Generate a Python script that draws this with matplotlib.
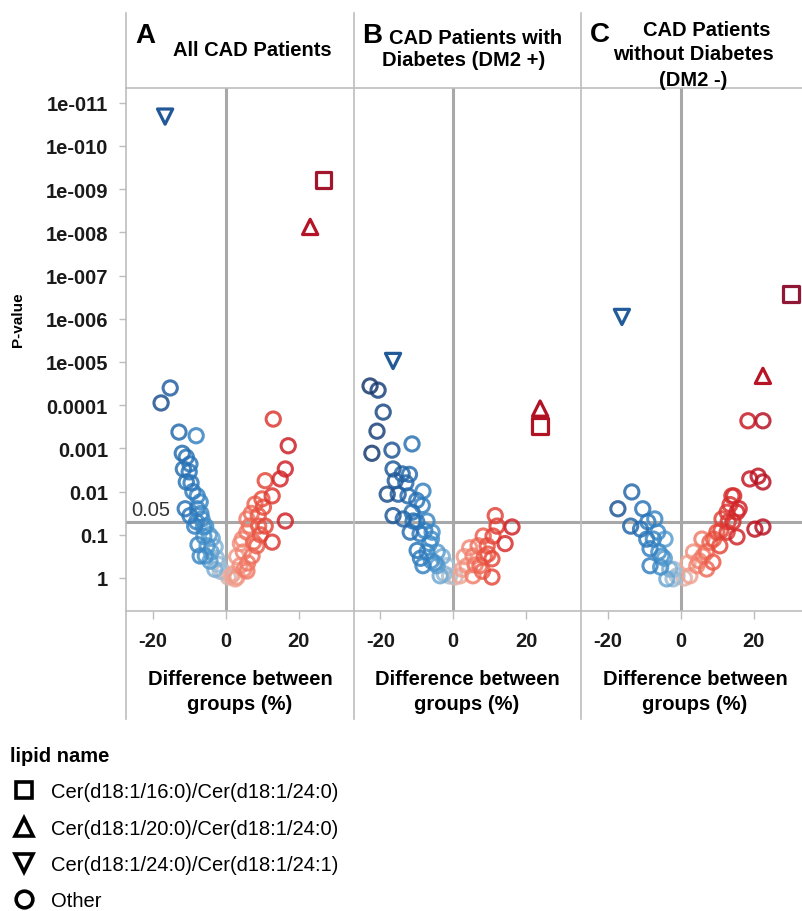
import numpy as np
import matplotlib
matplotlib.use('Agg')
import matplotlib.pyplot as plt
from matplotlib.colors import LinearSegmentedColormap, Normalize
from matplotlib.lines import Line2D
from matplotlib.ticker import FixedLocator, NullLocator

plt.rcParams['font.family'] = ['Liberation Sans', 'DejaVu Sans']

# ---- data (difference %, p-value) ----
# panel A: all CAD patients
a_x = [-15.2, -17.7, -12.8, -8.1, -11.9, -10.8, -9.8, -11.6, -10.0, -10.8, -7.8, -7.0,
       -11.1, -7.8, -9.8, -6.5, -6.1, -7.6, -3.7, -2.9, -5.6, -4.3, -2.1, -0.7, 0.7,
       2.6, -7.0, -5.1, -9.0, -8.5, -4.5, -6.0, -3.0,
       -6.8, -5.5, -4.0, -2.5, -1.5, -9.5, -8.0,
       13.0, 17.1, 16.3, 14.9, 10.8, 12.7, 9.9, 8.0, 10.3, 16.3, 10.8, 12.7, 5.8, 7.6,
       4.8, 7.2, 3.9, 5.8, 3.1, 8.9, 8.5, 5.8, 6.5, 4.5, 2.0, 9.5,
       3.0, 4.0, 6.0, 1.5, 7.0, 9.0, 5.0]
a_p = [4.0e-5, 8.9e-5, 4.2e-4, 5.1e-4, 1.3e-3, 1.6e-3, 2.3e-3, 3.0e-3, 3.5e-3, 6.0e-3, 0.0126, 0.0174,
       0.025, 0.025, 0.036, 0.043, 0.066, 0.17, 0.12, 0.19, 0.31, 0.41, 0.48, 0.72, 0.95,
       1.05, 0.31, 0.18, 0.01, 0.063, 0.1, 0.11, 0.63,
       0.032, 0.063, 0.25, 0.35, 0.7, 6.3e-3, 0.05,
       2.1e-4, 8.7e-4, 3.0e-3, 5.1e-3, 5.6e-3, 0.0126, 0.0148, 0.0195, 0.023, 0.048, 0.063, 0.148, 0.087, 0.148,
       0.25, 0.31, 0.52, 0.69, 0.95, 0.036, 0.18, 0.043, 0.063, 0.126, 0.8, 0.1,
       0.32, 0.16, 0.45, 0.9, 0.032, 0.063, 0.63]

# panel B: CAD patients with diabetes
b_x = [-22.8, -20.6, -19.2, -20.9, -22.3, -16.8, -11.3, -16.5, -14.0, -15.9, -18.1, -15.1,
       -12.4, -8.3, -16.5, -11.3, -8.5, -7.2, -11.8, -9.1, -5.8, -9.9, -7.2, -4.4, -8.3,
       -4.4, -3.6, -1.7, -13.7, -11.0, -13.0, -6.5, -2.5, -10.0, -6.0,
       -12.0, -10.0, -7.8, -6.0, -5.0, -3.0, -9.0, -1.0,
       11.5, 16.1, 14.2, 10.9, 8.2, 6.8, 10.6, 5.4, 3.8, 7.3, 10.6, 1.9, 5.4, 9.3, 12.0,
       0.5, 3.0, 8.5, 2.5, 4.5, 6.0, 8.0, 9.5]
b_p = [3.6e-5, 4.5e-5, 1.45e-4, 4.0e-4, 1.3e-3, 1.1e-3, 7.9e-4, 3.0e-3, 3.9e-3, 5.6e-3, 0.0115, 0.0115,
       0.0126, 9.8e-3, 0.036, 0.030, 0.021, 0.048, 0.087, 0.095, 0.087, 0.23, 0.25, 0.25, 0.52,
       0.52, 0.89, 0.52, 0.043, 0.048, 6.3e-3, 0.16, 0.8, 0.016, 0.4,
       4.0e-3, 0.05, 0.08, 0.126, 0.45, 0.32, 0.35, 0.9,
       0.036, 0.066, 0.16, 0.107, 0.107, 0.18, 0.36, 0.31, 0.52, 0.52, 0.95, 0.89, 0.89, 0.18, 0.063,
       0.95, 0.32, 0.32, 0.63, 0.2, 0.5, 0.7, 0.28]

# panel C: CAD patients without diabetes
c_x = [18.4, 22.5, 18.9, 21.2, 22.5, 20.3, 22.5, 14.0, 12.7, 15.4, 11.3, 14.3, 12.7, 15.4,
       9.9, 8.0, 10.7, 6.1, 8.8, 4.4, 2.5, 7.1, 5.8, 13.5, 1.0, 3.5,
       2.0, 5.0, 7.0, 9.0, 11.0, 13.0, 16.0, 14.5,
       -13.4, -17.2, -10.4, -13.7, -11.0, -7.1, -6.3, -9.3, -4.3, -8.4, -8.4, -5.2, -3.0,
       -2.1, -3.8, -6.0, -1.0, -9.0, -7.5, -5.5, -4.5, -2.0]
c_p = [2.3e-4, 2.3e-4, 5.1e-3, 4.4e-3, 6.0e-3, 0.074, 0.066, 0.0126, 0.030, 0.030, 0.043, 0.050, 0.087, 0.112,
       0.087, 0.148, 0.18, 0.31, 0.43, 0.52, 0.89, 0.62, 0.126, 0.02, 1.0, 0.25,
       0.45, 0.4, 0.25, 0.126, 0.08, 0.05, 0.025, 0.0126,
       0.0102, 0.025, 0.025, 0.063, 0.074, 0.043, 0.087, 0.126, 0.126, 0.21, 0.52, 0.31, 0.62,
       1.05, 1.05, 0.25, 0.89, 0.05, 0.126, 0.56, 0.35, 0.63]

# highlighted ratios: square, up triangle, down triangle (panels A, B, C)
sq_x = [26.7, 23.8, 30.2]
sq_p = [6.2e-10, 3.0e-4, 2.7e-7]
up_x = [23.1, 23.8, 22.5]
up_p = [7.5e-9, 1.2e-4, 2.1e-5]
dn_x = [-16.6, -16.5, -16.1]
dn_p = [2.1e-11, 9.5e-6, 9.1e-7]

lipids = ['Cer(d18:1/16:0)/Cer(d18:1/24:0)',
          'Cer(d18:1/20:0)/Cer(d18:1/24:0)',
          'Cer(d18:1/24:0)/Cer(d18:1/24:1)',
          'Other']

yticks = [1e-11, 1e-10, 1e-9, 1e-8, 1e-7, 1e-6, 1e-5, 1e-4, 1e-3, 1e-2, 1e-1, 1]
ytick_labels = ['1e-011', '1e-010', '1e-009', '1e-008', '1e-007', '1e-006', '1e-005',
                '0.0001', '0.001', '0.01', '0.1', '1']

# ---- styling ----
W, H = 802, 912
fig = plt.figure(figsize=(W / 100, H / 100), dpi=100)
fig.patch.set_facecolor('white')

def fx(px):
    return px / W

def fy(py):
    return 1 - py / H

stops = [(-25, '#14305f'), (-20, '#1d4680'), (-15, '#2462a3'), (-10, '#2c78bb'),
         (-5, '#4c96cd'), (-2, '#9dbfd8'), (0, '#cbbcbc'), (2, '#f0a898'),
         (5, '#f38470'), (10, '#e8503f'), (15, '#d42a2c'), (20, '#c21523'),
         (25, '#ad1326'), (32, '#861a3c')]
vmin, vmax = -25, 32
cmap = LinearSegmentedColormap.from_list(
    'diff', [((v - vmin) / (vmax - vmin), c) for v, c in stops])
norm = Normalize(vmin, vmax)

grey = '#bdbdbd'
refgrey = '#a8a8a8'
fs = 14.5

top, bot = 89, 612
lefts = [126, 354, 581]
rights = [354, 581, 802]
xlims = [(-27.3, 35.1), (-27.2, 35.0), (-27.3, 33.2)]
others = [(a_x, a_p), (b_x, b_p), (c_x, c_p)]

for i in range(3):
    ax = fig.add_axes([fx(lefts[i]), fy(bot), fx(rights[i] - lefts[i]), (bot - top) / H])
    ax.set_yscale('log')
    ax.set_ylim(10 ** 0.764, 10 ** -11.34)
    ax.set_xlim(*xlims[i])
    ax.axvline(0, color=refgrey, lw=2.2, zorder=1)
    ax.axhline(0.05, color=refgrey, lw=2.2, zorder=1)

    ox, op = others[i]
    ox = np.array(ox)
    op = np.array(op)
    order = np.argsort(np.abs(ox))
    ax.scatter(ox[order], op[order], s=105, facecolors='none',
               edgecolors=cmap(norm(ox[order])), linewidths=2.2, alpha=0.85, zorder=3)
    ax.scatter([sq_x[i]], [sq_p[i]], marker='s', s=125, facecolors='none',
               edgecolors=cmap(norm(sq_x[i])), linewidths=2.3, zorder=4)
    ax.scatter([up_x[i]], [up_p[i]], marker='^', s=120, facecolors='none',
               edgecolors=cmap(norm(up_x[i])), linewidths=2.3, zorder=4)
    ax.scatter([dn_x[i]], [dn_p[i]], marker='v', s=120, facecolors='none',
               edgecolors=cmap(norm(dn_x[i])), linewidths=2.3, zorder=4)

    for s in ['top', 'right']:
        ax.spines[s].set_visible(False)
    for s in ['left', 'bottom']:
        ax.spines[s].set_color(grey)
        ax.spines[s].set_linewidth(1.2)

    ax.set_xticks([-20, 0, 20])
    ax.set_xticklabels(['-20', '0', '20'], fontsize=fs, fontweight='bold')
    ax.tick_params(axis='x', colors=grey, length=5.5, width=1, pad=9, labelcolor='#1a1a1a')
    ax.yaxis.set_major_locator(FixedLocator(yticks))
    ax.yaxis.set_minor_locator(NullLocator())
    if i == 0:
        ax.set_yticklabels(ytick_labels, fontsize=fs, fontweight='bold')
        ax.tick_params(axis='y', colors=grey, length=5, width=1, pad=8, labelcolor='#1a1a1a')
    else:
        ax.tick_params(axis='y', length=0, labelleft=False)

# frame lines of the panel grid
for x in lefts:
    fig.add_artist(Line2D([fx(x), fx(x)], [fy(14), fy(top)], color=grey, lw=1.2))
    fig.add_artist(Line2D([fx(x), fx(x)], [fy(bot), fy(720)], color=grey, lw=1.2))
fig.add_artist(Line2D([fx(126), 1], [fy(top), fy(top)], color=grey, lw=1.2))

# panel headers
for letter, lx, ly in [('A', 135, 43), ('B', 362, 43), ('C', 590, 42)]:
    fig.text(fx(lx), fy(ly), letter, fontsize=20, fontweight='bold', va='baseline', ha='left')
fig.text(fx(252), fy(51), 'All CAD Patients', fontsize=fs, fontweight='bold', ha='center', va='center')
fig.text(fx(389), fy(39), 'CAD Patients with', fontsize=fs, fontweight='bold', ha='left', va='center')
fig.text(fx(382), fy(60), 'Diabetes (DM2 +)', fontsize=fs, fontweight='bold', ha='left', va='center')
fig.text(fx(707), fy(30), 'CAD Patients', fontsize=fs, fontweight='bold', ha='center', va='center')
fig.text(fx(693), fy(55), 'without Diabetes', fontsize=fs, fontweight='bold', ha='center', va='center')
fig.text(fx(693), fy(80), '(DM2 -)', fontsize=fs, fontweight='bold', ha='center', va='center')

# axis labels
fig.text(fx(18), fy(320), 'P-value', rotation=90, fontsize=11, fontweight='bold',
         ha='center', va='center')
for cx in [240, 467, 695]:
    fig.text(fx(cx), fy(680), 'Difference between', fontsize=fs, fontweight='bold', ha='center', va='center')
    fig.text(fx(cx), fy(705), 'groups (%)', fontsize=fs, fontweight='bold', ha='center', va='center')
fig.text(fx(131), fy(511), '0.05', fontsize=fs, color='#333333', ha='left', va='center')

# legend
handles = [Line2D([], [], marker=m, ls='none', mfc='none', mec='black', mew=2.6, ms=ms)
           for m, ms in [('s', 12), ('^', 12.5), ('v', 12.5), ('o', 12)]]
leg = fig.legend(handles, lipids, loc='upper left', bbox_to_anchor=(fx(10), fy(747)),
                 title='lipid name', frameon=False, fontsize=fs, handlelength=1.4,
                 handletextpad=0.65, labelspacing=0.86, borderpad=0, borderaxespad=0,
                 alignment='left')
leg.get_title().set_fontweight('bold')
leg.get_title().set_fontsize(fs)

fig.savefig('out.png', dpi=100)
